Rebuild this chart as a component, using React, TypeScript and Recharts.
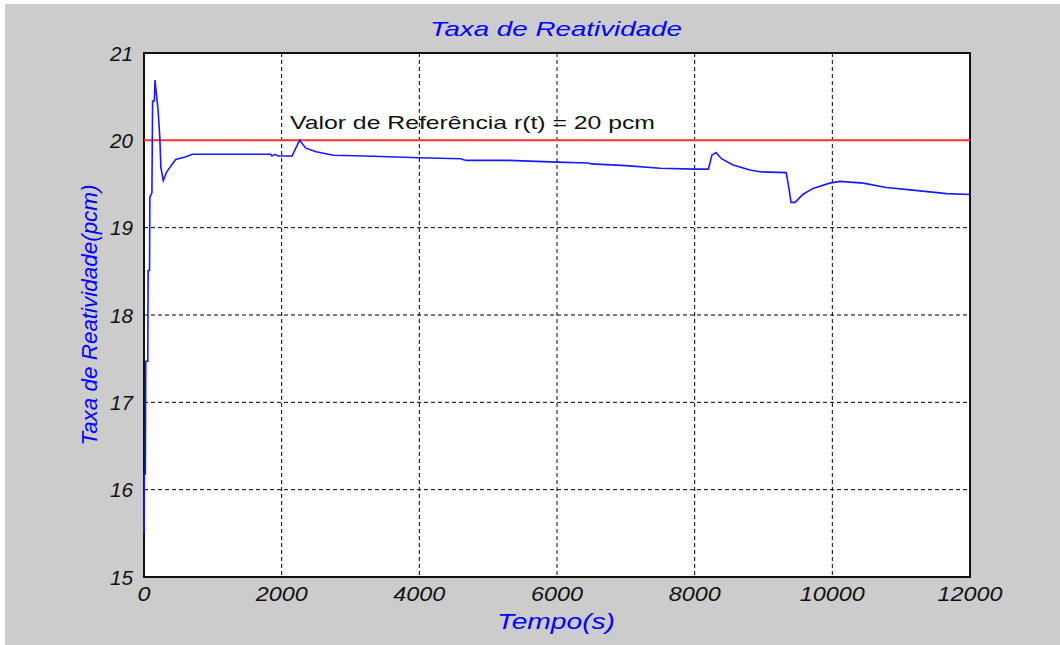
import {
  CartesianGrid,
  Customized,
  Line,
  LineChart,
  ReferenceArea,
  ReferenceLine,
  XAxis,
  YAxis,
} from "recharts";

// tempo (s)
const tempo = [
  0, 5, 20, 25, 55, 60, 80, 85, 115, 125, 150, 160, 175, 205, 230, 245, 280,
  330, 460, 600, 700, 1840, 1860, 1900, 1950, 2150, 2260, 2350, 2500, 2750,
  3200, 4000, 4600, 4680, 5300, 6000, 6450, 6500, 7000, 7500, 8000, 8200, 8250,
  8310, 8390, 8550, 8800, 8950, 9330, 9370, 9400, 9460, 9570, 9720, 9960,
  10110, 10450, 10780, 11170, 11660, 12000,
];

// taxa de reatividade (pcm)
const taxa = [
  15.5, 16.18, 16.18, 17.47, 17.47, 18.51, 18.51, 19.35, 19.4, 20.45, 20.45,
  20.69, 20.57, 20.34, 20.03, 19.69, 19.54, 19.64, 19.78, 19.81, 19.84, 19.84,
  19.82, 19.84, 19.82, 19.82, 20.0, 19.91, 19.87, 19.83, 19.82, 19.8, 19.79,
  19.77, 19.77, 19.75, 19.74, 19.73, 19.71, 19.68, 19.67, 19.67, 19.83, 19.86,
  19.79, 19.72, 19.66, 19.64, 19.63, 19.45, 19.29, 19.29, 19.38, 19.45, 19.51,
  19.53, 19.51, 19.46, 19.43, 19.39, 19.38,
];

const referencia = 20;
const xTicks = [0, 2000, 4000, 6000, 8000, 10000, 12000];
const yTicks = [15, 16, 17, 18, 19, 20, 21];

const data = tempo.map((t, i) => ({ t, taxa: taxa[i] }));

const FONT = "'Liberation Sans', Arial, sans-serif";

function XTick({ x, y, payload }: any) {
  const s = String(payload.value);
  return (
    <text
      x={x}
      y={y + 24}
      textAnchor="middle"
      fontFamily={FONT}
      fontSize={20}
      fontStyle="italic"
      fill="#111"
      textLength={s.length * 13}
      lengthAdjust="spacingAndGlyphs"
    >
      {s}
    </text>
  );
}

function YTick({ x, y, payload }: any) {
  const s = String(payload.value);
  return (
    <text
      x={x - 11}
      y={y + 7.5}
      textAnchor="end"
      fontFamily={FONT}
      fontSize={20}
      fontStyle="italic"
      fill="#111"
      textLength={s.length * 11.5}
      lengthAdjust="spacingAndGlyphs"
    >
      {s}
    </text>
  );
}

function Textos() {
  return (
    <g fontFamily={FONT}>
      <text
        x={551}
        y={32}
        textAnchor="middle"
        fontSize={21}
        fontStyle="italic"
        fill="#0000ff"
        textLength={252}
        lengthAdjust="spacingAndGlyphs"
      >
        Taxa de Reatividade
      </text>
      <text
        x={551}
        y={625}
        textAnchor="middle"
        fontSize={22}
        fontStyle="italic"
        fill="#0000ff"
        textLength={118}
        lengthAdjust="spacingAndGlyphs"
      >
        Tempo(s)
      </text>
      <text
        transform="translate(92,311) rotate(-90)"
        textAnchor="middle"
        fontSize={22}
        fontStyle="italic"
        fill="#0000ff"
        textLength={261}
        lengthAdjust="spacingAndGlyphs"
      >
        Taxa de Reatividade(pcm)
      </text>
      <text
        x={285}
        y={125}
        fontSize={19}
        fill="#111"
        textLength={365}
        lengthAdjust="spacingAndGlyphs"
      >
        Valor de Referência r(t) = 20 pcm
      </text>
    </g>
  );
}

export default function App() {
  return (
    <div
      style={{
        position: "fixed",
        left: 0,
        top: 0,
        width: 1060,
        height: 645,
        background: "#fff",
      }}
    >
      <div
        style={{
          position: "absolute",
          left: 5,
          top: 4,
          width: 1055,
          height: 641,
          background: "#cccccc",
        }}
      >
        <LineChart
          width={1055}
          height={641}
          data={data}
          margin={{ top: 49, right: 90, bottom: 38, left: 79 }}
        >
          <CartesianGrid
            stroke="#000"
            strokeDasharray="4 3"
            fill="#fff"
            fillOpacity={1}
          />
          <XAxis
            dataKey="t"
            type="number"
            domain={[0, 12000]}
            ticks={xTicks}
            interval={0}
            height={30}
            tickSize={0}
            tickMargin={0}
            axisLine={false}
            tickLine={false}
            tick={<XTick />}
          />
          <YAxis
            type="number"
            domain={[15, 21]}
            ticks={yTicks}
            interval={0}
            width={60}
            tickSize={0}
            tickMargin={0}
            axisLine={false}
            tickLine={false}
            tick={<YTick />}
            allowDataOverflow
          />
          <ReferenceLine
            y={referencia}
            stroke="#ff3333"
            strokeWidth={2}
            ifOverflow="extendDomain"
          />
          <Line
            type="linear"
            dataKey="taxa"
            stroke="#1a1aff"
            strokeWidth={1.6}
            dot={false}
            activeDot={false}
            isAnimationActive={false}
          />
          <ReferenceArea
            x1={0}
            x2={12000}
            y1={15}
            y2={21}
            fill="none"
            stroke="#111"
            strokeWidth={2}
            fillOpacity={0}
          />
          <Customized component={<Textos />} />
        </LineChart>
      </div>
    </div>
  );
}
